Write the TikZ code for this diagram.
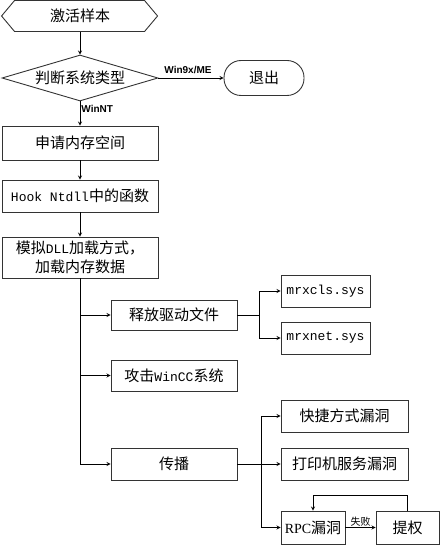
\documentclass[tikz,border=0pt]{standalone}
\usepackage{fontspec}
\setmainfont{Liberation Serif}
\setsansfont{Liberation Sans}
\setmonofont{Liberation Mono}
\newfontfamily\cjk{Noto Sans CJK SC}
\usetikzlibrary{shapes.geometric}
\newcommand{\latn}[1]{{\ttfamily\fontsize{13}{15}\selectfont #1}}

\tikzset{
	box/.style={draw=black!80, line width=0.9pt, inner sep=0pt, align=center, font=\cjk\fontsize{15}{19}\selectfont},
	flow/.style={line width=0.8pt, -stealth},
	link/.style={line width=0.8pt},
	tag/.style={font=\sffamily\bfseries\fontsize{10}{11}\selectfont, inner sep=1pt}
}

\begin{document}
\begin{tikzpicture}[x=1pt,y=-1pt]
	\useasboundingbox (0,0) rectangle (440,545);
	% main column
	\node[box, draw=none, minimum width=156pt, minimum height=31pt] (start) at (80,16) {激活样本};
	\draw[draw=black!80, line width=0.9pt] (start.west) -- ++(13,-15.5) -- ++(130,0) -- ++(13,15.5) -- ++(-13,15.5) -- ++(-130,0) -- cycle;
	\node[box, diamond, aspect=3.4, minimum width=156pt, minimum height=46pt] (judge) at (80,78) {判断系统类型};
	\node[box, rounded corners=17pt, minimum width=80pt, minimum height=35pt] (quit) at (264,78) {退出};
	\node[box, minimum width=156pt, minimum height=34pt] (alloc) at (80,143) {申请内存空间};
	\node[box, minimum width=156pt, minimum height=32pt] (hook) at (80,196) {\latn{Hook Ntdll}中的函数};
	\node[box, minimum width=156pt, minimum height=41pt] (load) at (80,257.5) {模拟\latn{DLL}加载方式，\\加载内存数据};
	% branches
	\node[box, minimum width=126pt, minimum height=30pt] (drop) at (174,315) {释放驱动文件};
	\node[box, minimum width=89pt, minimum height=32pt] (cls) at (325.5,291) {\latn{mrxcls.sys}};
	\node[box, minimum width=89pt, minimum height=32pt] (net) at (325.5,338) {\latn{mrxnet.sys}};
	\node[box, minimum width=126pt, minimum height=31pt] (attack) at (174,375.5) {攻击\latn{WinCC}系统};
	\node[box, minimum width=126pt, minimum height=32pt] (spread) at (174,464) {传播};
	\node[box, minimum width=127pt, minimum height=32pt] (lnk) at (344.5,416) {快捷方式漏洞};
	\node[box, minimum width=127pt, minimum height=32pt] (prn) at (344.5,464) {打印机服务漏洞};
	\node[box, minimum width=64pt, minimum height=33pt] (rpc) at (313,527.5) {{\rmfamily\fontsize{14}{16}\selectfont RPC}漏洞};
	\node[box, minimum width=63pt, minimum height=33pt] (esc) at (407.5,527.5) {提权};
	\coordinate (fork1) at (259,315);
	\coordinate (fork2) at (261,464);

	\draw[flow] (start) -- (judge);
	\draw[flow] (judge) -- node[tag, above=3pt, xshift=-3pt]{Win9x/ME} (quit);
	\draw[flow] (judge) -- node[tag, right, pos=0.3]{WinNT} (alloc);
	\draw[flow] (alloc) -- (hook);
	\draw[flow] (hook) -- (load);
	\draw[flow] (load) |- (spread.west);
	\draw[flow] (load.south |- drop.west) -- (drop.west);
	\draw[flow] (load.south |- attack.west) -- (attack.west);
	\draw[link] (drop) -- (fork1);
	\draw[flow] (fork1) |- (cls.west);
	\draw[flow] (fork1) |- (net.west);
	\draw[flow] (spread) -- (prn);
	\draw[flow] (fork2) |- (lnk.west);
	\draw[flow] (fork2) |- (rpc.west);
	\draw[flow] (rpc) -- node[above, inner sep=1pt, font=\cjk\fontsize{10}{11}\selectfont]{失败} (esc);
	\draw[flow] (esc.north) -- ++(0,-15) -| (rpc.north);
\end{tikzpicture}
\end{document}
